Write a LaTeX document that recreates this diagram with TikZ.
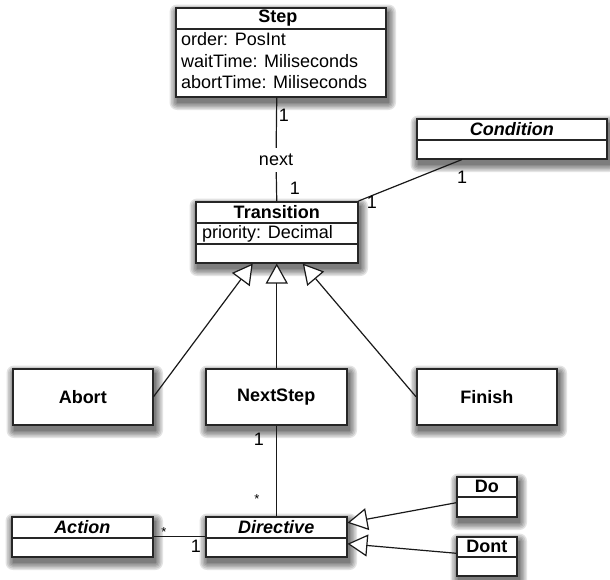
\documentclass[tikz,border=0pt]{standalone}
\usepackage{fontspec}
\setmainfont{Liberation Sans}
\usetikzlibrary{arrows.meta, calc}

\pgfdeclarelayer{paper}
\pgfdeclarelayer{shade}
\pgfsetlayers{paper,shade,main}

\tikzset{
  classbox/.style={draw=black!85, line width=1.5pt, fill=white, rectangle,
    inner sep=0pt, anchor=north west},
  title/.style={font=\fontsize{18}{21}\selectfont\bfseries, inner sep=0pt},
  ititle/.style={font=\fontsize{18}{21}\selectfont\bfseries\itshape, inner sep=0pt},
  attr/.style={font=\fontsize{18}{21}\selectfont, inner sep=0pt, anchor=west},
  divider/.style={draw=black!85, line width=1.3pt},
  conn/.style={draw=black!90, line width=1.2pt},
  inherit/.style={conn, -{Triangle[length=20pt, width=22pt, fill=white]}},
  mult/.style={font=\fontsize{18}{21}\selectfont, inner sep=0pt},
  star/.style={font=\fontsize{13}{15}\selectfont, inner sep=0pt},
  shadelayer/.style={fill=black, opacity=0.11},
}

% soft drop shadow under a box: stacked translucent rectangles
\newcommand{\softshadow}[1]{%
  \foreach \e in {0,1.5,3,4.5,6,7.5}{%
    \fill[shadelayer, rounded corners=\e pt]
      ($(#1.north west)+(2-\e,5-\e)$) rectangle ($(#1.south east)+(2+\e,5+\e)$);
  }}

\begin{document}
\begin{tikzpicture}[x=1pt, y=-1pt]
  \begin{pgfonlayer}{paper}
    \fill[white] (0,0) rectangle (610,579);
  \end{pgfonlayer}
  \useasboundingbox (0,0) rectangle (610,579);

  % ---- Step ----
  \node[classbox, minimum width=210pt, minimum height=89pt] (step) at (175,7) {};
  \draw[divider] ($(step.north west)+(0,22)$) -- ($(step.north east)+(0,22)$);
  \node[title] (steptitle) at ($(step.north)+(-3,11)$) {Step};
  \node[attr] (stepa) at ($(step.north west)+(6,32)$) {order: PosInt};
  \node[attr] (stepb) at ($(step.north west)+(6,54)$) {waitTime: Miliseconds};
  \node[attr] (stepc) at ($(step.north west)+(6,75)$) {abortTime: Miliseconds};

  % ---- Transition ----
  \node[classbox, minimum width=162pt, minimum height=61pt] (trans) at (195,201) {};
  \draw[divider] ($(trans.north west)+(0,22)$) -- ($(trans.north east)+(0,22)$);
  \draw[divider] ($(trans.north west)+(0,43)$) -- ($(trans.north east)+(0,43)$);
  \node[title] (transtitle) at ($(trans.north)+(0,11)$) {Transition};
  \node[attr] (transa) at ($(trans.north west)+(7,32.5)$) {priority: Decimal};

  % ---- Condition ----
  \node[classbox, minimum width=190pt, minimum height=40pt] (cond) at (416,118) {};
  \draw[divider] ($(cond.north west)+(0,22)$) -- ($(cond.north east)+(0,22)$);
  \node[ititle] (condtitle) at ($(cond.north)+(0,11)$) {Condition};

  % ---- concrete transitions ----
  \node[classbox, minimum width=140pt, minimum height=56pt] (abort) at (12,368) {};
  \node[title] (aborttitle) at (abort.center) {Abort};
  \node[classbox, minimum width=141pt, minimum height=56pt] (nextstep) at (205,368) {};
  \node[title] (nexttitle) at (nextstep.center) {NextStep};
  \node[classbox, minimum width=140pt, minimum height=56pt] (finish) at (416,368) {};
  \node[title] (finishtitle) at (finish.center) {Finish};

  % ---- Action / Directive ----
  \node[classbox, minimum width=141pt, minimum height=40pt] (action) at (11,516) {};
  \draw[divider] ($(action.north west)+(0,22)$) -- ($(action.north east)+(0,22)$);
  \node[ititle] (actiontitle) at ($(action.north)+(0,11)$) {Action};

  \node[classbox, minimum width=141pt, minimum height=40pt] (directive) at (205,516) {};
  \draw[divider] ($(directive.north west)+(0,22)$) -- ($(directive.north east)+(0,22)$);
  \node[ititle] (directivetitle) at ($(directive.north)+(0,11)$) {Directive};

  % ---- Do / Dont ----
  \node[classbox, minimum width=60pt, minimum height=40pt] (do) at (456,476) {};
  \draw[divider] ($(do.north west)+(0,21)$) -- ($(do.north east)+(0,21)$);
  \node[title] (dotitle) at ($(do.north)+(0,10.5)$) {Do};

  \node[classbox, minimum width=60pt, minimum height=39pt] (dont) at (456,536) {};
  \draw[divider] ($(dont.north west)+(0,21)$) -- ($(dont.north east)+(0,21)$);
  \node[title] (donttitle) at ($(dont.north)+(0,10.5)$) {Dont};

  % ---- shadows under every box ----
  \begin{pgfonlayer}{shade}
    \foreach \b in {step,trans,cond,abort,nextstep,finish,action,directive,do,dont}{
      \softshadow{\b}
    }
  \end{pgfonlayer}

  % ---- associations ----
  \node[mult, fill=white, inner xsep=2pt, inner ysep=6pt] (nextlbl) at (276,160) {next};
  \draw[conn] (trans.north |- step.south) -- (nextlbl);
  \draw[conn] (nextlbl) -- (trans.north);
  \node[mult] (m1) at (284,115) {1};
  \node[mult] (m2) at (295,188) {1};

  \draw[conn] ($(cond.south west)+(46,0)$) -- (trans.north east);
  \node[mult] (m3) at (462,177) {1};
  \node[mult] (m4) at (372,202) {1};

  \draw[conn] (nextstep.south) -- (directive.north);
  \node[mult] (m5) at (259,439) {1};
  \node[star] (m6) at (257,499) {*};

  \draw[conn] (action.east) -- (directive.west);
  \node[star] (m7) at (164,532) {*};
  \node[mult] (m8) at (196,546) {1};

  % ---- generalizations ----
  \draw[inherit] (abort.east) -- ($(trans.south)+(-24,0)$);
  \draw[inherit] (trans.south |- nextstep.north) -- (trans.south);
  \draw[inherit] (finish.west) -- ($(trans.south)+(26,0)$);

  \draw[inherit] ($(do.west)+(0,6)$) -- ($(directive.east)+(0,-14)$);
  \draw[inherit] ($(dont.west)+(0,-3)$) -- ($(directive.east)+(0,7)$);
\end{tikzpicture}
\end{document}
